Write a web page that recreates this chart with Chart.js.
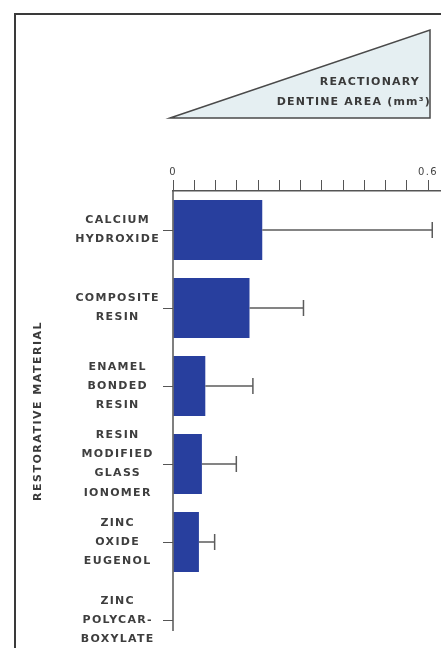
<!DOCTYPE html>
<html><head><meta charset="utf-8">
<script src="https://cdn.jsdelivr.net/npm/chart.js@4/dist/chart.umd.min.js"></script>
<style>
html,body{margin:0;padding:0;background:#fff;overflow:hidden;}
#wrap{position:relative;width:441px;height:648px;overflow:hidden;background:#fff;}
#frame{position:absolute;left:14px;top:13px;width:600px;height:800px;border:2px solid #3a3a3a;box-sizing:border-box;}
canvas{position:absolute;left:0;top:0;}
</style></head><body>
<div id="wrap"><div id="frame"></div><canvas id="c" width="450" height="660"></canvas></div>
<script>
const categories = [["CALCIUM","HYDROXIDE"],["COMPOSITE","RESIN"],["ENAMEL","BONDED","RESIN"],["RESIN","MODIFIED","GLASS","IONOMER"],["ZINC","OXIDE","EUGENOL"],["ZINC","POLYCAR-","BOXYLATE"]];
const areaValues = [0.21, 0.18, 0.076, 0.068, 0.061, 0];
const areaErrors = [0.40, 0.127, 0.112, 0.081, 0.037, 0];
const xTickValues = [0, 0.05, 0.1, 0.15, 0.2, 0.25, 0.3, 0.35, 0.4, 0.45, 0.5, 0.55, 0.6];
const xTickLabels = ["0", "", "", "", "", "", "", "", "", "", "", "", "0.6"];
const yAxisTitle = "RESTORATIVE MATERIAL";
const legendLines = ["REACTIONARY", "DENTINE AREA (mm³)"];

const FONT = '"DejaVu Sans", "Liberation Sans", Arial, sans-serif';
const SPACING = '1.3px';

const spacing = {
  id: 'spacing',
  beforeLayout(chart) { chart.ctx.letterSpacing = SPACING; },
  beforeDraw(chart) { chart.ctx.letterSpacing = SPACING; }
};

const errorBars = {
  id: 'errorBars',
  afterDatasetsDraw(chart) {
    const { ctx, scales: { x } } = chart;
    const meta = chart.getDatasetMeta(0);
    ctx.save();
    ctx.strokeStyle = '#5c5c5c';
    ctx.lineWidth = 1.5;
    meta.data.forEach((bar, i) => {
      const e = areaErrors[i];
      if (!e) return;
      const x0 = x.getPixelForValue(areaValues[i]);
      const x1 = x.getPixelForValue(areaValues[i] + e);
      const yc = bar.y;
      ctx.beginPath();
      ctx.moveTo(x0, yc); ctx.lineTo(x1, yc);
      ctx.moveTo(x1, yc - 8); ctx.lineTo(x1, yc + 8);
      ctx.stroke();
    });
    ctx.restore();
  }
};

const decor = {
  id: 'decor',
  afterDraw(chart) {
    const { ctx, scales: { x, y } } = chart;
    const n = categories.length;
    const step = (y.bottom - y.top) / n;
    const yEnd = y.getPixelForValue(n - 1) + step * 0.14;
    ctx.save();
    ctx.strokeStyle = '#555';
    ctx.lineWidth = 1.5;
    ctx.beginPath();
    ctx.moveTo(x.left, y.top); ctx.lineTo(x.left, yEnd);
    ctx.stroke();
    ctx.font = 'bold 11px ' + FONT;
    ctx.fillStyle = '#3a3a3a';
    ctx.letterSpacing = '1.5px';
    ctx.translate(38, (y.top + yEnd) / 2);
    ctx.rotate(-Math.PI / 2);
    ctx.textAlign = 'center';
    ctx.textBaseline = 'middle';
    ctx.fillText(yAxisTitle, 0, 0);
    ctx.restore();

    const xl = x.getPixelForValue(0) - 3, xr = x.getPixelForValue(0.6) + 2;
    const yt = 30, yb = 118;
    ctx.save();
    ctx.beginPath();
    ctx.moveTo(xl, yb); ctx.lineTo(xr, yt); ctx.lineTo(xr, yb); ctx.closePath();
    ctx.fillStyle = '#e5eff2';
    ctx.fill();
    ctx.strokeStyle = '#4a4a4a';
    ctx.lineWidth = 1.5;
    ctx.stroke();
    ctx.font = 'bold 11px ' + FONT;
    ctx.fillStyle = '#3a3a3a';
    ctx.letterSpacing = '1.2px';
    ctx.textAlign = 'right';
    ctx.textBaseline = 'middle';
    ctx.fillText(legendLines[0], xr - 10, 82);
    ctx.fillText(legendLines[1], xr + 1, 102);
    ctx.restore();
  }
};

new Chart(document.getElementById('c'), {
  type: 'bar',
  data: {
    labels: categories,
    datasets: [{
      data: areaValues,
      backgroundColor: '#283f9e',
      borderWidth: 0,
      barPercentage: 0.77,
      categoryPercentage: 1
    }]
  },
  options: {
    indexAxis: 'y',
    responsive: false,
    animation: false,
    layout: { padding: { left: 20, top: 161, right: 5, bottom: 1 } },
    plugins: { legend: { display: false }, tooltip: { enabled: false } },
    scales: {
      x: {
        type: 'linear', position: 'top', min: 0, max: 0.64,
        afterBuildTicks(s) { s.ticks = xTickValues.map(v => ({ value: v })); },
        afterFit(s) { s.height = 30; s.paddingLeft = 0; s.paddingRight = 0; },
        grid: { display: true, drawOnChartArea: false, drawTicks: true, tickLength: 11, color: '#555', lineWidth: 1 },
        border: { display: true, color: '#555', width: 1.5 },
        ticks: {
          autoSkip: false, maxRotation: 0, padding: 2, color: '#444',
          font: { family: FONT, size: 10 },
          callback: (v, i) => xTickLabels[i]
        }
      },
      y: {
        type: 'category', position: 'left', offset: true,
        afterFit(s) { s.width = 153; s.paddingTop = 0; s.paddingBottom = 0; },
        grid: { display: true, drawOnChartArea: false, offset: false, tickLength: 10, color: '#555', lineWidth: 1 },
        border: { display: false },
        ticks: {
          autoSkip: false, crossAlign: 'center', padding: 3, color: '#3e3e3e',
          font: { family: FONT, size: 11, weight: 'bold', lineHeight: 1.75 }
        }
      }
    }
  },
  plugins: [spacing, errorBars, decor]
});
</script>
</body></html>
